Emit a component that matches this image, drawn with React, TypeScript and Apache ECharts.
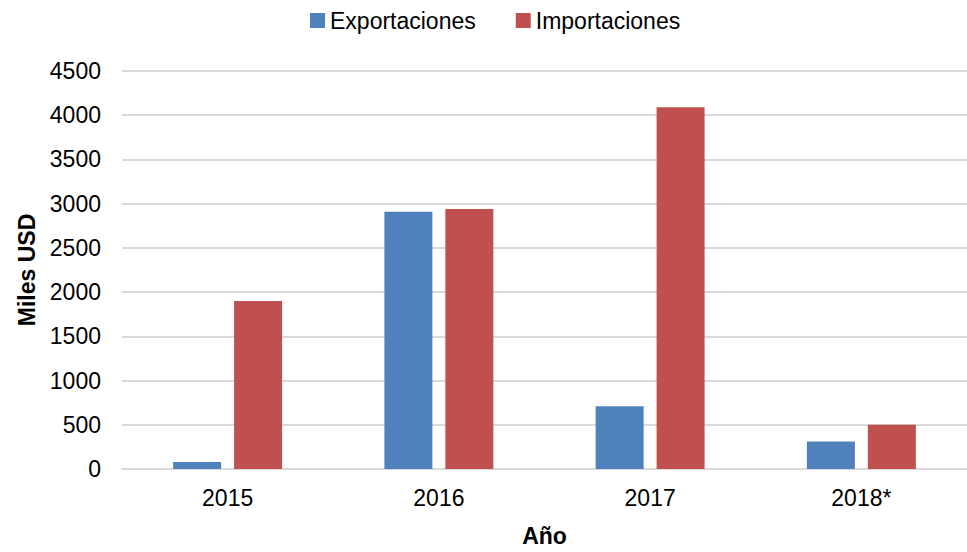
import React, { useEffect, useRef } from "react";
import * as echarts from "echarts";

const categories = ["2015", "2016", "2017", "2018*"];
const exportaciones = [80, 2910, 710, 310];
const importaciones = [1900, 2940, 4090, 500];
const seriesNames = ["Exportaciones", "Importaciones"];

const FONT = "'Liberation Sans', Arial, sans-serif";

export default function App() {
  const ref = useRef<HTMLDivElement>(null);
  useEffect(() => {
    document.body.style.margin = "0";
    const chart = echarts.init(ref.current!, null, { renderer: "svg" });
    chart.setOption({
      animation: false,
      textStyle: { fontFamily: FONT },
      legend: {
        top: 4,
        left: 305,
        itemWidth: 15,
        itemHeight: 15,
        itemGap: 40,
        icon: "rect",
        textStyle: { fontSize: 23, color: "#000", fontFamily: FONT },
        data: seriesNames,
      },
      grid: { left: 122, top: 71, width: 856, height: 404 },
      xAxis: {
        type: "category",
        data: categories,
        axisTick: { show: false },
        axisLine: { lineStyle: { color: "#d9d9d9", width: 2 } },
        axisLabel: { fontSize: 23, color: "#000", margin: 17, fontFamily: FONT },
        name: "Año",
        nameLocation: "middle",
        nameGap: 55,
        nameTextStyle: { fontSize: 23, fontWeight: "bold", color: "#000", fontFamily: FONT },
      },
      yAxis: {
        type: "value",
        min: 0,
        max: 4500,
        interval: 500,
        axisLine: { show: false },
        axisTick: { show: false },
        splitLine: { lineStyle: { color: "#d9d9d9", width: 2 } },
        axisLabel: {
          fontSize: 23,
          color: "#000",
          margin: 21,
          fontFamily: FONT,
          formatter: (v: number) => String(v),
        },
        name: "Miles USD",
        nameLocation: "middle",
        nameGap: 84,
        nameTextStyle: { fontSize: 23, fontWeight: "bold", color: "#000", fontFamily: FONT },
      },
      series: [
        {
          name: seriesNames[0],
          type: "bar",
          data: exportaciones,
          barWidth: 48,
          barGap: "27%",
          itemStyle: { color: "#4f81bd" },
        },
        {
          name: seriesNames[1],
          type: "bar",
          data: importaciones,
          barWidth: 48,
          barGap: "27%",
          itemStyle: { color: "#c0504d" },
        },
      ],
    });
    return () => chart.dispose();
  }, []);
  return <div ref={ref} style={{ width: 967, height: 552 }} />;
}
